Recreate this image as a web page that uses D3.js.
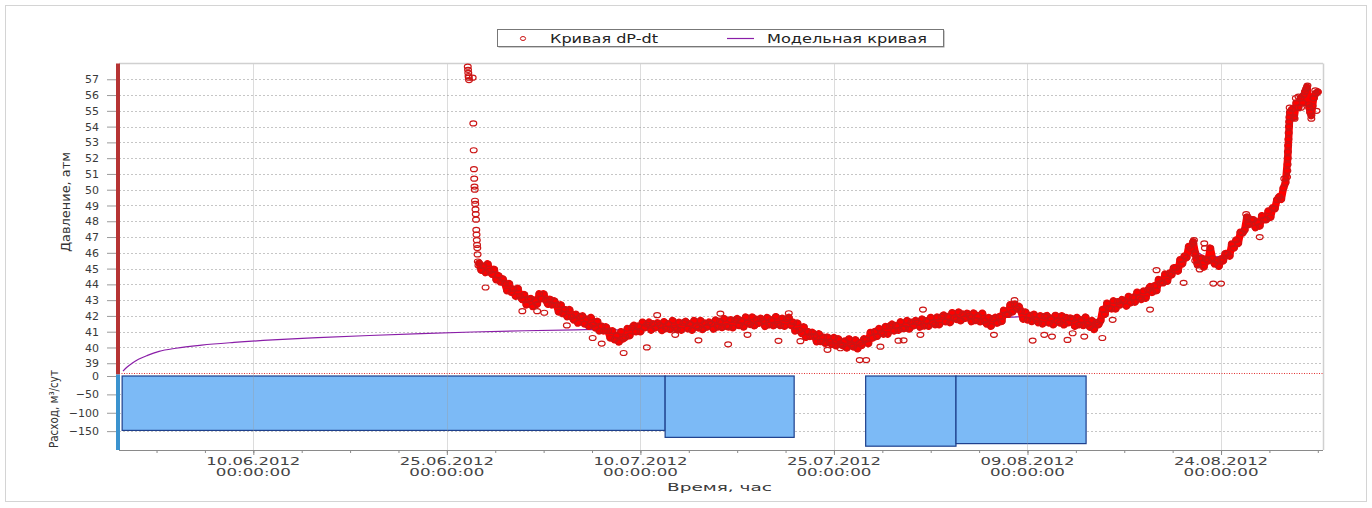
<!DOCTYPE html>
<html>
<head>
<meta charset="utf-8">
<script src="https://cdn.jsdelivr.net/npm/d3@7"></script>
<style>
  html, body { margin: 0; padding: 0; background: #fff; }
  svg { display: block; font-family: "DejaVu Sans", Verdana, sans-serif; }
</style>
</head>
<body>
<svg id="chart" width="1372" height="508"></svg>
<script>
// ---------- data ----------
const seriesNames = ["Кривая dP-dt", "Модельная кривая"];
const xTickLabels = ["10.06.2012", "25.06.2012", "10.07.2012", "25.07.2012", "09.08.2012", "24.08.2012"];
const pressureTicks = [39, 40, 41, 42, 43, 44, 45, 46, 47, 48, 49, 50, 51, 52, 53, 54, 55, 56, 57];
const flowTicks = [0, -50, -100, -150];

// time window of the plot
const timeFrom = "30.05.2012 14:10";
const timeTo = "31.08.2012 21:40";

// pressure record: day offsets are counted from dpOrigin
const dpOrigin = "26.06.2012 00:00";
const dpFirstDay = 1.5;      // first regular sample, days after dpOrigin
const dpStepHours = 4;       // regular sampling step
const dpValues = [
  45.35, 44.9, 45.15, 44.75, 45.3, 44.85,
  44.65, 44.95, 44.3, 44.55, 44.15, 44.35,
  44.05, 43.6, 44.05, 43.5, 43.7, 43.25,
  43.75, 43.25, 43.05, 43.35, 42.7, 43.05,
  43.1, 42.6, 43.0, 42.75, 43.4, 43.1,
  43.4, 43.0, 42.75, 43.05, 42.7, 42.95,
  42.7, 42.25, 42.7, 42.15, 42.4, 41.95,
  42.4, 41.95, 41.75, 42.1, 41.55, 41.95,
  42.0, 41.5, 41.8, 41.35, 41.9, 41.45,
  41.25, 41.65, 41.05, 41.35, 41.05, 41.3,
  41.05, 40.6, 41.05, 40.5, 40.75, 40.35,
  41.0, 40.55, 40.65, 41.2, 40.75, 41.25,
  41.4, 41.0, 41.35, 41.0, 41.6, 41.25,
  41.45, 41.6, 41.1, 41.5, 41.25, 41.55,
  41.42, 41.08, 41.63, 41.2, 41.5, 41.15,
  41.7, 41.25, 41.15, 41.6, 41.1, 41.55,
  41.65, 41.2, 41.5, 41.1, 41.7, 41.35,
  41.25, 41.7, 41.15, 41.55, 41.3, 41.6,
  41.5, 41.17, 41.73, 41.3, 41.65, 41.27,
  41.82, 41.35, 41.3, 41.75, 41.26, 41.72,
  41.83, 41.4, 41.7, 41.3, 41.92, 41.57,
  41.47, 41.93, 41.38, 41.79, 41.54, 41.84,
  41.69, 41.34, 41.89, 41.44, 41.74, 41.39,
  41.95, 41.5, 41.4, 41.85, 41.35, 41.8,
  41.9, 41.4, 41.6, 41.05, 41.55, 41.1,
  40.9, 41.3, 40.65, 41.0, 40.7, 40.95,
  40.75, 40.37, 40.87, 40.38, 40.65, 40.27,
  40.65, 40.37, 40.2, 40.63, 40.11, 40.55,
  40.2, 40.13, 40.4, 39.97, 40.54, 40.15,
  40.05, 40.48, 39.92, 40.3, 40.15, 40.55,
  40.5, 40.25, 40.95, 40.6, 41.0, 40.7,
  41.2, 40.95, 40.85, 41.32, 40.85, 41.35,
  41.47, 41.05, 41.38, 41.1, 41.62, 41.2,
  41.22, 41.7, 41.17, 41.6, 41.37, 41.7,
  41.57, 41.3, 41.8, 41.37, 41.69, 41.35,
  41.9, 41.56, 41.45, 41.92, 41.45, 41.93,
  42.05, 41.63, 41.95, 41.58, 42.2, 41.87,
  41.78, 42.24, 41.7, 42.11, 41.86, 42.16,
  42.0, 41.64, 42.18, 41.72, 42.0, 41.63,
  42.17, 41.7, 41.5, 41.9, 41.35, 41.8,
  41.9, 41.55, 41.95, 41.65, 42.35, 42.1,
  42.1, 42.7, 42.25, 42.75, 42.45, 42.6,
  42.3, 41.8, 42.25, 41.75, 42.03, 41.65,
  42.1, 41.75, 41.58, 42.0, 41.5, 41.95,
  42.02, 41.55, 41.85, 41.44, 42.03, 41.67,
  41.56, 42.0, 41.44, 41.9, 41.57, 41.86,
  41.8, 41.35, 41.9, 41.45, 41.75, 41.4,
  41.92, 41.5, 41.3, 41.7, 41.15, 41.58,
  41.45, 41.7, 42.4, 42.1, 42.8, 42.5,
  42.45, 42.95, 42.45, 42.9, 42.7, 43.03,
  42.93, 42.63, 43.23, 42.83, 43.18, 42.88,
  43.5, 43.15, 43.05, 43.57, 43.13, 43.65,
  43.85, 43.5, 43.9, 43.6, 44.3, 44.1,
  44.1, 44.65, 44.2, 44.7, 44.6, 45.05,
  45.05, 44.85, 45.55, 45.3, 45.8, 45.7,
  46.4, 46.25, 46.7, 46.0, 45.3, 45.65,
  45.65, 45.1, 45.6, 45.5, 46.3, 45.65,
  45.3, 45.5, 45.15, 45.6, 45.5, 45.95,
  45.95, 45.8, 46.55, 46.3, 46.8, 46.6,
  47.3, 47.25, 47.45, 48.25, 47.8, 48.1,
  48.1, 47.6, 47.95, 47.7, 48.35, 48.1,
  48.1, 48.65, 48.25, 48.85, 48.8, 49.35,
  49.55, 49.4, 50.1, 50.45, 52.0, 54.9,
  55.1, 54.6, 55.5, 55.2, 55.8, 55.5,
  56.2, 56.5, 55.2, 54.7, 55.8, 56.1,
  56.2
];
// irregular readings: [days after dpOrigin, pressure]
const dpSparse = [
  [0.62, 57.8], [0.64, 57.6], [0.66, 57.4], [0.68, 57.2], [0.7, 57.1], [0.72, 56.95], [1.0, 57.1],
  [1.05, 54.2], [1.08, 52.5], [1.1, 51.3], [1.12, 50.7], [1.14, 50.2], [1.16, 50.0], [1.18, 49.3],
  [1.2, 49.1], [1.22, 48.75], [1.24, 48.45], [1.26, 48.1], [1.28, 47.45], [1.3, 47.15], [1.32, 46.8],
  [1.34, 46.5], [1.36, 46.3], [1.38, 45.9], [1.4, 45.45], [1.45, 45.2],
  [2.0, 43.8], [4.85, 42.3], [6.0, 42.3], [6.55, 42.2], [8.3, 41.4], [10.3, 40.6], [11.0, 40.25],
  [12.7, 39.65], [14.5, 40.0], [15.3, 42.05], [16.7, 40.8], [18.5, 40.45], [20.2, 42.15],
  [20.8, 40.2], [22.3, 40.8], [24.7, 40.42], [25.5, 42.17], [26.4, 40.4], [28.5, 39.85],
  [29.5, 39.95], [31.0, 39.2], [31.5, 39.2], [32.6, 40.05], [34.0, 40.43], [34.4, 40.45],
  [35.7, 40.8], [35.9, 42.4], [41.4, 40.8], [43.0, 43.0], [44.4, 40.44], [45.3, 40.8],
  [45.9, 40.69], [47.1, 40.48], [47.5, 40.9], [48.4, 40.69], [49.8, 40.6], [50.6, 41.75],
  [53.5, 42.4], [54.0, 44.9], [56.1, 44.1],
  [56.85, 46.6], [56.9, 46.8], [56.95, 45.9], [57.0, 45.5], [57.2, 45.2], [57.35, 44.95],
  [57.7, 46.6], [57.75, 46.3], [58.4, 44.05], [59.0, 44.05],
  [60.95, 48.45], [61.05, 48.3], [61.1, 47.9], [62.0, 47.0],
  [63.9, 50.7], [64.12, 50.8], [64.14, 51.2], [64.16, 51.6], [64.18, 52.4], [64.2, 52.8], [64.22, 53.2],
  [64.24, 53.6], [64.26, 54.0], [64.28, 54.3], [64.3, 54.6], [64.32, 55.2],
  [64.7, 54.5], [64.8, 55.8], [65.0, 55.9], [65.2, 55.2], [65.4, 56.0], [65.6, 56.4], [65.7, 56.6],
  [65.8, 55.4], [65.9, 54.9], [66.0, 54.5], [66.1, 55.3], [66.2, 55.8], [66.3, 56.3], [66.4, 55.0]
];

// model curve: days after dpOrigin and pressure
const modelDays = [
  -26.1, -25.8, -25.4, -24.9, -24.2, -23.3, -22.0, -20.0, -17.5, -14.5, -11.0, -7.0, -3.0,
  1.0, 5.0, 9.0, 11.8, 12.5, 13.5, 15.0, 19.0, 22.0, 25.5, 26.5, 28.0, 29.5, 30.8, 31.5,
  32.5, 33.5, 35.0, 37.0, 39.5, 42.0, 44.0, 46.0, 49.3, 50.0, 52.0, 54.0, 55.5, 56.9, 58.0,
  59.5, 61.0, 62.5, 63.5, 64.0, 64.3, 65.0, 66.5
];
const modelValues = [
  38.5, 38.75, 39.0, 39.25, 39.5, 39.75, 39.95, 40.15, 40.32, 40.48, 40.62, 40.76, 40.88,
  40.98, 41.06, 41.12, 41.15, 41.1, 41.15, 41.3, 41.45, 41.5, 41.52, 41.2, 40.75, 40.4, 40.1, 40.2,
  40.8, 41.15, 41.4, 41.6, 41.8, 41.9, 41.95, 41.9, 41.75, 42.2, 43.0, 43.7, 44.8, 46.1, 45.7,
  45.9, 47.8, 48.2, 49.3, 50.4, 54.5, 55.5, 56.0
];

// injection rate steps
const flowStart = ["30.05.2012 20:00", "11.07.2012 22:00", "27.07.2012 11:00", "03.08.2012 11:00"];
const flowEnd = ["11.07.2012 22:00", "21.07.2012 22:00", "03.08.2012 11:00", "13.08.2012 13:00"];
const flowValues = [-148, -167, -191, -184];

// ---------- drawing ----------
const parse = d3.timeParse("%d.%m.%Y %H:%M");
const origin = parse(dpOrigin);
const dayToDate = k => new Date(origin.getTime() + k * 864e5);

const pLeft = 119, pRight = 1323, pTop = 63.5, pSplit = 373.5, pBottom = 450;

const x = d3.scaleTime().domain([parse(timeFrom), parse(timeTo)]).range([pLeft, pRight]);
const yP = d3.scaleLinear().domain([38.35, 58]).range([pSplit, pTop]);
const yQ = d3.scaleLinear().domain([-200, 0]).range([449.5, 376]);

const svg = d3.select("#chart");

// outer frame
svg.append("rect").attr("x", 5.5).attr("y", 5.5).attr("width", 1361).attr("height", 496)
  .attr("fill", "#fff").attr("stroke", "#d4d4d4");

// horizontal grid
const grid = svg.append("g");
grid.selectAll("line.gp").data(pressureTicks).join("line")
  .attr("x1", pLeft).attr("x2", pRight)
  .attr("y1", d => Math.round(yP(d)) + 0.5).attr("y2", d => Math.round(yP(d)) + 0.5)
  .attr("stroke", "#c6c6c6").attr("stroke-dasharray", "2,2");
grid.selectAll("line.gq").data(flowTicks.filter(d => d !== 0)).join("line")
  .attr("x1", pLeft).attr("x2", pRight)
  .attr("y1", d => Math.round(yQ(d)) + 0.5).attr("y2", d => Math.round(yQ(d)) + 0.5)
  .attr("stroke", "#c6c6c6").attr("stroke-dasharray", "2,2");

const majorDates = xTickLabels.map(s => parse(s + " 00:00"));

// flow bars
svg.append("g").selectAll("rect").data(flowValues).join("rect")
  .attr("x", (d, i) => x(parse(flowStart[i])))
  .attr("width", (d, i) => x(parse(flowEnd[i])) - x(parse(flowStart[i])))
  .attr("y", yQ(0))
  .attr("height", d => yQ(d) - yQ(0))
  .attr("fill", "#7cbaf6")
  .attr("stroke", "#1d3f8c").attr("stroke-width", 1.2);

// vertical grid at labelled dates
svg.append("g").selectAll("line").data(majorDates).join("line")
  .attr("x1", d => Math.round(x(d)) + 0.5).attr("x2", d => Math.round(x(d)) + 0.5)
  .attr("y1", pTop).attr("y2", pBottom)
  .attr("stroke", "#9a9a9a").attr("stroke-opacity", 0.35);

// plot frame
svg.append("line").attr("x1", pLeft).attr("x2", pRight).attr("y1", pTop).attr("y2", pTop)
  .attr("stroke", "#d0d0d0").attr("stroke-width", 1.5);
svg.append("line").attr("x1", pRight + 0.5).attr("x2", pRight + 0.5).attr("y1", pTop).attr("y2", pBottom)
  .attr("stroke", "#d0d0d0").attr("stroke-width", 1.5);

// boundary between the panels
svg.append("line").attr("x1", pLeft).attr("x2", pRight).attr("y1", pSplit).attr("y2", pSplit)
  .attr("stroke", "#e23030").attr("stroke-dasharray", "1,1.5");

// model curve
const modelLine = d3.line().x((d, i) => x(dayToDate(modelDays[i]))).y(d => yP(d)).curve(d3.curveMonotoneX);
svg.append("path").datum(modelValues).attr("d", modelLine)
  .attr("fill", "none").attr("stroke", "#8a1ea8").attr("stroke-width", 1.2);

// pressure record: dense trace plus a ring at every reading
const dpPoints = dpValues.map((v, i) => [dayToDate(dpFirstDay + i * dpStepHours / 24), v]);
const dpLine = d3.line().x(d => x(d[0])).y(d => yP(d[1]));
svg.append("path").datum(dpPoints).attr("d", dpLine)
  .attr("fill", "none").attr("stroke", "#ff0000").attr("stroke-width", 7.5)
  .attr("stroke-linejoin", "round").attr("stroke-linecap", "round");
const allPoints = dpPoints.concat(dpSparse.map(d => [dayToDate(d[0]), d[1]]));
svg.append("g").selectAll("ellipse").data(allPoints).join("ellipse")
  .attr("cx", d => x(d[0])).attr("cy", d => yP(d[1])).attr("rx", 3.4).attr("ry", 2.5)
  .attr("fill", "none").attr("stroke", "#cc1515").attr("stroke-width", 1.2);

// left axes
const axisP = d3.axisLeft(yP).tickValues(pressureTicks).tickSize(9).tickPadding(8).tickFormat(d3.format("d"));
const gP = svg.append("g").attr("transform", "translate(116,0)").call(axisP);
const axisQ = d3.axisLeft(yQ).tickValues(flowTicks).tickSize(9).tickPadding(8).tickFormat(d3.format("d"));
const gQ = svg.append("g").attr("transform", "translate(116,0)").call(axisQ);
[gP, gQ].forEach(g => {
  g.select(".domain").remove();
  g.selectAll(".tick line").attr("stroke", "#9a9a9a");
  g.selectAll(".tick text").attr("fill", "#3a3a3a").style("font-size", "11px")
    .style("font-family", "'DejaVu Sans', Verdana, sans-serif");
});
svg.append("rect").attr("x", 116).attr("y", pTop).attr("width", 4).attr("height", pSplit - pTop + 1)
  .attr("fill", "#b63434");
svg.append("rect").attr("x", 116).attr("y", pSplit + 1).attr("width", 4).attr("height", pBottom - pSplit - 1)
  .attr("fill", "#3b93cf");

// bottom axis: labelled ticks and intermediate ticks
const minorDates = [];
for (let t = majorDates[0].getTime() - 2 * 90 * 36e5; t <= x.domain()[1].getTime(); t += 90 * 36e5) {
  if (t >= x.domain()[0].getTime()) minorDates.push(new Date(t));
}
const gX = svg.append("g").attr("transform", `translate(0,${pBottom})`)
  .call(d3.axisBottom(x).tickValues(minorDates).tickSize(3).tickFormat(""));
gX.select(".domain").attr("stroke", "#8a8a8a").attr("d", `M${pLeft},0.5H${pRight}`);
gX.selectAll(".tick line").attr("stroke", "#8a8a8a");
const gXm = svg.append("g").attr("transform", `translate(0,${pBottom})`)
  .call(d3.axisBottom(x).tickValues(majorDates).tickSize(5).tickFormat(""));
gXm.select(".domain").remove();
gXm.selectAll(".tick line").attr("stroke", "#8a8a8a");

const xLabels = svg.append("g").attr("fill", "#444").style("font-size", "11px");
xLabels.selectAll("text.d").data(majorDates).join("text")
  .attr("x", d => x(d)).attr("y", 464.5).attr("text-anchor", "middle")
  .attr("textLength", 94).attr("lengthAdjust", "spacingAndGlyphs")
  .text((d, i) => xTickLabels[i]);
xLabels.selectAll("text.h").data(majorDates).join("text")
  .attr("x", d => x(d)).attr("y", 475.5).attr("text-anchor", "middle")
  .attr("textLength", 75).attr("lengthAdjust", "spacingAndGlyphs")
  .text(d => d3.timeFormat("%H:%M:%S")(d));

// axis titles
svg.append("text").attr("x", 719.5).attr("y", 490.5).attr("text-anchor", "middle")
  .attr("fill", "#3a3a3a").style("font-size", "11px")
  .attr("textLength", 105).attr("lengthAdjust", "spacingAndGlyphs").text("Время, час");
svg.append("text").attr("transform", "translate(70,202) rotate(-90)").attr("text-anchor", "middle")
  .attr("fill", "#333").style("font-size", "11.5px")
  .attr("textLength", 100).attr("lengthAdjust", "spacingAndGlyphs").text("Давление, атм");
svg.append("text").attr("transform", "translate(58,409) rotate(-90)").attr("text-anchor", "middle")
  .attr("fill", "#333").style("font-size", "12px")
  .attr("textLength", 78).attr("lengthAdjust", "spacingAndGlyphs").text("Расход, м³/сут");

// legend
const lg = svg.append("g");
lg.append("rect").attr("x", 498.5).attr("y", 30.5).attr("width", 446).attr("height", 17).attr("fill", "#999");
lg.append("rect").attr("x", 497.5).attr("y", 29.5).attr("width", 446).attr("height", 17)
  .attr("fill", "#fff").attr("stroke", "#777");
lg.append("ellipse").attr("cx", 523).attr("cy", 38.5).attr("rx", 2.6).attr("ry", 2)
  .attr("fill", "none").attr("stroke", "#cc1515");
lg.append("text").attr("x", 550).attr("y", 42.5).style("font-size", "11.5px").attr("fill", "#222")
  .attr("textLength", 108).attr("lengthAdjust", "spacingAndGlyphs").text(seriesNames[0]);
lg.append("line").attr("x1", 727).attr("x2", 754).attr("y1", 38.5).attr("y2", 38.5)
  .attr("stroke", "#8a1ea8").attr("stroke-width", 1.2);
lg.append("text").attr("x", 767).attr("y", 42.5).style("font-size", "11.5px").attr("fill", "#222")
  .attr("textLength", 160).attr("lengthAdjust", "spacingAndGlyphs").text(seriesNames[1]);
</script>
</body>
</html>
